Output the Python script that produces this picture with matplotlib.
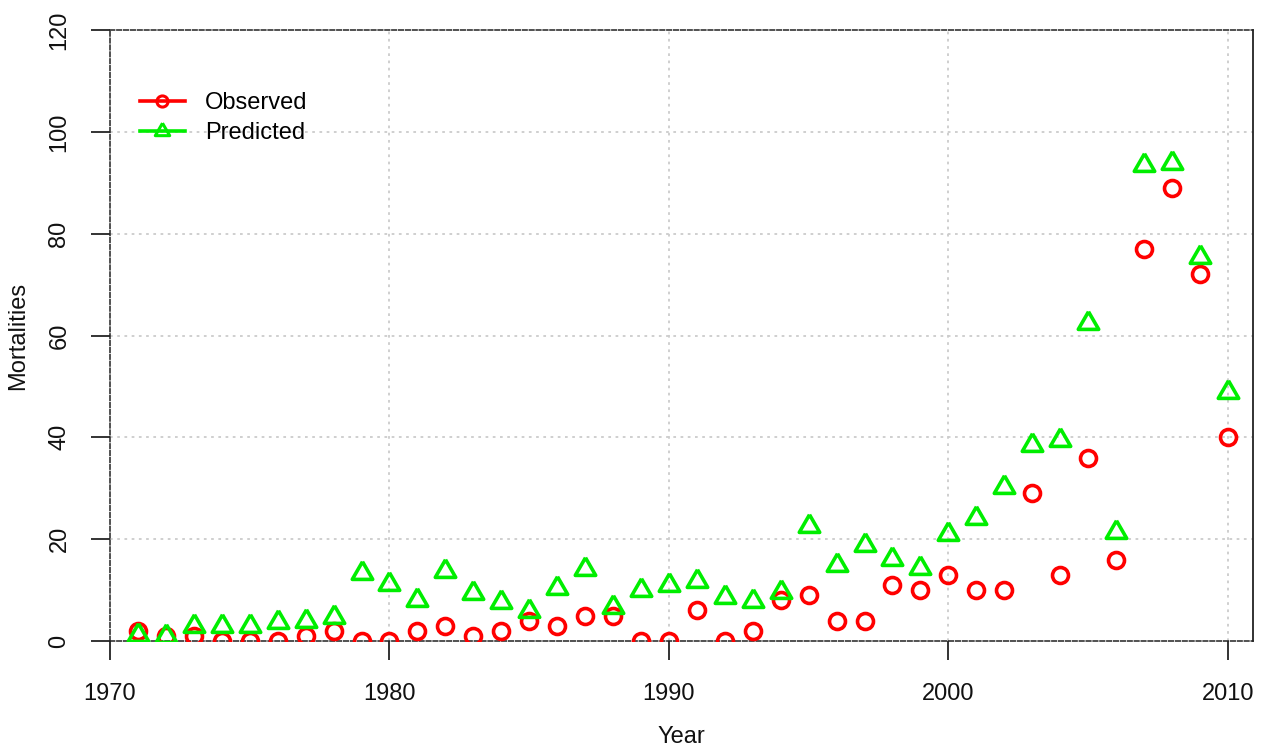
import numpy as np
import matplotlib
matplotlib.use("Agg")
import matplotlib.pyplot as plt
from matplotlib.lines import Line2D

plt.rcParams['font.family'] = ['Liberation Sans', 'DejaVu Sans']

years = list(range(1971, 2011))
observed = [2, 1, 1, 0, 0, 0, 1, 2, 0, 0,
            2, 3, 1, 2, 4, 3, 5, 5, 0, 0,
            6, 0, 2, 8, 9, 4, 4, 11, 10, 13,
            10, 10, 29, 13, 36, 16, 77, 89, 72, 40]
predicted = [1.2, 1.0, 3.0, 3.0, 3.0, 3.8, 4.0, 4.8, 13.3, 11.2,
             8.0, 13.8, 9.5, 7.7, 5.8, 10.4, 14.1, 6.6, 10.0, 11.0,
             11.8, 8.6, 7.8, 9.7, 22.5, 15.0, 18.8, 16.1, 14.4, 21.0,
             24.1, 30.3, 38.4, 39.5, 62.4, 21.5, 93.4, 93.9, 75.5, 49.0]
xticks = [1970, 1980, 1990, 2000, 2010]
yticks = [0, 20, 40, 60, 80, 100, 120]

RED = '#FF0000'
GREEN = '#00EE00'
TXT = '#111111'
tri = [(0, 1.0), (-0.866, -0.5), (0.866, -0.5), (0, 1.0)]

fig = plt.figure(figsize=(12.65, 7.54), dpi=100)
ax = fig.add_axes([110/1265, 1 - 641/754, (1253-110)/1265, (641-30)/754])

ax.set_xlim(1970, 2010.9)
ax.set_ylim(0, 120)

# grid
for gx in xticks[1:]:
    ax.axvline(gx, color='#CCCCCC', lw=1.3, ls=(0, (1.5, 2.5)), zorder=0)
for gy in yticks[1:-1]:
    ax.axhline(gy, color='#CCCCCC', lw=1.3, ls=(0, (1.5, 2.5)), zorder=0)

ax.plot(years, observed, ls='none', marker='o', ms=11.5, mfc='none',
        mec=RED, mew=2.6, zorder=3)
ax.plot(years, predicted, ls='none', marker=tri, ms=17, mfc='none',
        mec=GREEN, mew=2.6, zorder=4)

for side in ['left', 'top', 'bottom']:
    ax.spines[side].set_linestyle((0, (3, 1.5)))
    ax.spines[side].set_linewidth(1.1)
    ax.spines[side].set_color('#222222')
ax.spines['right'].set_linewidth(1.3)
ax.spines['right'].set_color('#222222')

ax.set_xticks(xticks)
ax.set_yticks(yticks)
ax.set_yticklabels([str(v) for v in yticks], rotation=90, va='center')
ax.tick_params(axis='both', direction='out', length=13.5, width=1.2,
               labelsize=17, colors=TXT)
ax.tick_params(axis='x', pad=17)
ax.tick_params(axis='y', pad=15)

ax.set_xlabel('Year', fontsize=17, color=TXT, labelpad=15)
ax.set_ylabel('Mortalities', fontsize=17, color=TXT, labelpad=14)

handles = [
    Line2D([0], [0], color=RED, lw=2.6, marker='o', ms=8, mfc='none', mec=RED, mew=2.2),
    Line2D([0], [0], color=GREEN, lw=2.6, marker=tri, ms=12, mfc='none', mec=GREEN, mew=2.2),
]
ax.legend(handles, ['Observed', 'Predicted'], loc='upper left',
          bbox_to_anchor=(0.026, 0.898), frameon=False, fontsize=17,
          handlelength=1.9, handletextpad=0.85, labelspacing=0.32,
          borderpad=0, borderaxespad=0)

fig.savefig('out.png', dpi=100)
